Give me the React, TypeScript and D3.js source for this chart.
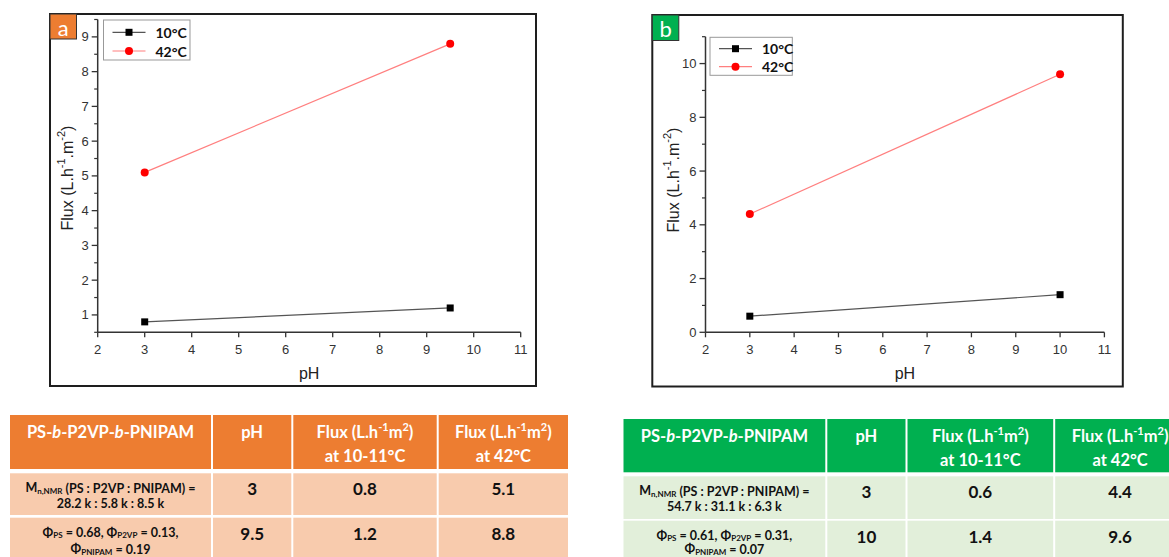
import React from 'react';
import * as d3 from 'd3';

// ---------- data ----------
const xTicks = [2, 3, 4, 5, 6, 7, 8, 9, 10, 11];
const seriesNames = ['10°C', '42°C'];

const phA = [3, 9.5];
const flux10A = [0.8, 1.2];
const flux42A = [5.1, 8.8];
const yTicksA = [1, 2, 3, 4, 5, 6, 7, 8, 9];
const yMinorA = [0.5, 1.5, 2.5, 3.5, 4.5, 5.5, 6.5, 7.5, 8.5, 9.5];

const phB = [3, 10];
const flux10B = [0.6, 1.4];
const flux42B = [4.4, 9.6];
const yTicksB = [0, 2, 4, 6, 8, 10];
const yMinorB = [1, 3, 5, 7, 9, 11];

const compA = ['28.2 k : 5.8 k : 8.5 k'];
const phiA = ['0.68', '0.13', '0.19'];
const compB = ['54.7 k : 31.1 k : 6.3 k'];
const phiB = ['0.61', '0.31', '0.07'];

const ARIAL = '"Liberation Sans", Arial, sans-serif';
const CAL = 'Lato, "Open Sans", sans-serif';

type PanelProps = {
  frame: { x: number; y: number; w: number; h: number };
  xRange: [number, number];
  yDomain: [number, number];
  yRange: [number, number];
  yTicks: number[];
  yMinor: number[];
  ph: number[];
  f10: number[];
  f42: number[];
  label: string;
  labelColor: string;
  labelW: number;
  labelH: number;
  legend: { x: number; y: number; w: number; h: number; r1: number; r2: number };
  yTitleX: number;
  yTitleY: number;
};

function Panel(p: PanelProps) {
  const x = d3.scaleLinear().domain([2, 11]).range(p.xRange);
  const y = d3.scaleLinear().domain(p.yDomain).range(p.yRange);
  const axisY = p.yRange[0];
  const axisX = p.xRange[0];
  const line = d3
    .line<number>()
    .x((_, i) => x(p.ph[i]))
    .y((d) => y(d));
  const lg = p.legend;
  const titleY = p.yTitleY;
  return (
    <g>
      <rect x={p.frame.x} y={p.frame.y} width={p.frame.w} height={p.frame.h} fill="#fff" stroke="#1e1e1e" strokeWidth={2} />
      <rect x={p.frame.x} y={p.frame.y} width={p.labelW} height={p.labelH} fill={p.labelColor} stroke="#333" strokeWidth={1} />
      <text x={p.frame.x + p.labelW / 2} y={p.frame.y + p.labelH / 2 + 1} fill="#fff" fontFamily={CAL} fontSize={22} textAnchor="middle" dominantBaseline="central">
        {p.label}
      </text>
      {/* axes */}
      <line x1={axisX} x2={axisX} y1={p.yRange[0]} y2={p.yRange[1]} stroke="#333" strokeWidth={1.5} />
      <line x1={p.xRange[0]} x2={p.xRange[1]} y1={axisY} y2={axisY} stroke="#333" strokeWidth={1.5} />
      {p.yTicks.map((t) => (
        <g key={'yt' + t}>
          <line x1={axisX - 6} x2={axisX} y1={y(t)} y2={y(t)} stroke="#333" strokeWidth={1.3} />
          <text x={axisX - 9} y={y(t)} textAnchor="end" dominantBaseline="central" fontFamily={ARIAL} fontSize={13} fill="#333">
            {t}
          </text>
        </g>
      ))}
      {p.yMinor.map((t) => (
        <line key={'ym' + t} x1={axisX - 3.5} x2={axisX} y1={y(t)} y2={y(t)} stroke="#333" strokeWidth={1.2} />
      ))}
      {xTicks.map((t) => (
        <g key={'xt' + t}>
          <line x1={x(t)} x2={x(t)} y1={axisY} y2={axisY + 5} stroke="#333" strokeWidth={1.3} />
          <text x={x(t)} y={axisY + 17} textAnchor="middle" dominantBaseline="central" fontFamily={ARIAL} fontSize={13} fill="#333">
            {t}
          </text>
        </g>
      ))}
      <text x={(p.xRange[0] + p.xRange[1]) / 2} y={axisY + 41} textAnchor="middle" dominantBaseline="central" fontFamily={ARIAL} fontSize={16} fill="#222">
        pH
      </text>
      <text
        transform={`translate(${p.yTitleX},${titleY}) rotate(-90)`}
        textAnchor="middle"
        dominantBaseline="central"
        fontFamily={ARIAL}
        fontSize={16}
        fill="#222"
      >
        Flux (L.h<tspan dy={-6} fontSize={11}>-1</tspan>
        <tspan dy={6}>.m</tspan>
        <tspan dy={-6} fontSize={11}>-2</tspan>
        <tspan dy={6}>)</tspan>
      </text>
      {/* series */}
      <path d={line(p.f10) || ''} fill="none" stroke="#555" strokeWidth={1.2} />
      <path d={line(p.f42) || ''} fill="none" stroke="#ff7f7f" strokeWidth={1.2} />
      {p.f10.map((v, i) => (
        <rect key={'s' + i} x={x(p.ph[i]) - 3.5} y={y(v) - 3.5} width={7} height={7} fill="#000" />
      ))}
      {p.f42.map((v, i) => (
        <circle key={'c' + i} cx={x(p.ph[i])} cy={y(v)} r={4} fill="#ff0000" />
      ))}
      {/* legend */}
      <rect x={lg.x} y={lg.y} width={lg.w} height={lg.h} fill="#fff" stroke="#999" strokeWidth={1} />
      <line x1={lg.x + 9} x2={lg.x + 42} y1={lg.r1} y2={lg.r1} stroke="#555" strokeWidth={1.2} />
      <rect x={lg.x + 25.5 - 3.5} y={lg.r1 - 3.5} width={7} height={7} fill="#000" />
      <line x1={lg.x + 9} x2={lg.x + 42} y1={lg.r2} y2={lg.r2} stroke="#ff7f7f" strokeWidth={1.2} />
      <circle cx={lg.x + 25.5} cy={lg.r2} r={4} fill="#ff0000" />
      <text x={lg.x + 52} y={lg.r1} dominantBaseline="central" fontFamily={CAL} fontWeight={700} fontSize={14} fill="#111">
        {seriesNames[0]}
      </text>
      <text x={lg.x + 52} y={lg.r2} dominantBaseline="central" fontFamily={CAL} fontWeight={700} fontSize={14} fill="#111">
        {seriesNames[1]}
      </text>
    </g>
  );
}

type TableProps = {
  cols: number[];
  head: [number, number];
  row1: [number, number];
  row2: [number, number];
  headColor: string;
  bodyColor: string;
  comp: string[];
  phi: string[];
  ph: number[];
  f10: number[];
  f42: number[];
  lastLine: number;
};

function FluxHead({ cx, y }: { cx: number; y: number }) {
  return (
    <text x={cx} y={y} textAnchor="middle" dominantBaseline="central" fontFamily={CAL} fontWeight={700} fontSize={16.5} fill="#fff">
      Flux (L.h<tspan dy={-6} fontSize={11}>-1</tspan>
      <tspan dy={6}>m</tspan>
      <tspan dy={-6} fontSize={11}>2</tspan>
      <tspan dy={6}>)</tspan>
    </text>
  );
}

function Table(t: TableProps) {
  const c = t.cols;
  const mid = (i: number) => (c[i] + c[i + 1]) / 2;
  const rows = [t.head, t.row1, t.row2];
  const headTxt = (s: string, cx: number, y: number) => (
    <text x={cx} y={y} textAnchor="middle" dominantBaseline="central" fontFamily={CAL} fontWeight={700} fontSize={16.5} fill="#fff">
      {s}
    </text>
  );
  const val = (s: string | number, cx: number, y: number, k: string) => (
    <text key={k} x={cx} y={y} textAnchor="middle" dominantBaseline="central" fontFamily={CAL} fontWeight={700} fontSize={17} fill="#111">
      {s}
    </text>
  );
  const hy = t.head[0];
  const r1 = t.row1[0];
  const r2 = t.row2[0];
  return (
    <g>
      {rows.map((r, ri) =>
        [0, 1, 2, 3].map((ci) => (
          <rect
            key={ri + '-' + ci}
            x={c[ci] + 1}
            y={r[0]}
            width={c[ci + 1] - c[ci] - 2}
            height={r[1] - r[0]}
            fill={ri === 0 ? t.headColor : t.bodyColor}
          />
        ))
      )}
      {/* header */}
      <text x={mid(0)} y={hy + 17} textAnchor="middle" dominantBaseline="central" fontFamily={CAL} fontWeight={700} fontSize={16.5} fill="#fff">
        PS-<tspan fontStyle="italic">b</tspan>-P2VP-<tspan fontStyle="italic">b</tspan>-PNIPAM
      </text>
      {headTxt('pH', mid(1), hy + 17)}
      <FluxHead cx={mid(2)} y={hy + 17} />
      {headTxt('at 10-11°C', mid(2), hy + 41)}
      <FluxHead cx={mid(3)} y={hy + 17} />
      {headTxt('at 42°C', mid(3), hy + 41)}
      {/* row 1 */}
      <text x={mid(0)} y={r1 + 14.5} textAnchor="middle" dominantBaseline="central" fontFamily={CAL} fontWeight={700} fontSize={12.5} fill="#111">
        M<tspan fontSize={8} dy={3}>n,NMR</tspan>
        <tspan dy={-3}> (PS : P2VP : PNIPAM) =</tspan>
      </text>
      <text x={mid(0)} y={r1 + 30} textAnchor="middle" dominantBaseline="central" fontFamily={CAL} fontWeight={700} fontSize={12.5} fill="#111">
        {t.comp[0]}
      </text>
      {val(t.ph[0], mid(1), r1 + 15.5, 'a1')}
      {val(t.f10[0].toFixed(1), mid(2), r1 + 15.5, 'a2')}
      {val(t.f42[0].toFixed(1), mid(3), r1 + 15.5, 'a3')}
      {/* row 2 */}
      <text x={mid(0)} y={r2 + 14.5} textAnchor="middle" dominantBaseline="central" fontFamily={CAL} fontWeight={700} fontSize={12.5} fill="#111">
        Φ<tspan fontSize={8} dy={3}>PS</tspan>
        <tspan dy={-3}> = {t.phi[0]}, Φ</tspan>
        <tspan fontSize={8} dy={3}>P2VP</tspan>
        <tspan dy={-3}> = {t.phi[1]},</tspan>
      </text>
      <text x={mid(0)} y={r2 + t.lastLine} textAnchor="middle" dominantBaseline="central" fontFamily={CAL} fontWeight={700} fontSize={12.5} fill="#111">
        Φ<tspan fontSize={8} dy={3}>PNIPAM</tspan>
        <tspan dy={-3}> = {t.phi[2]}</tspan>
      </text>
      {val(t.ph[1], mid(1), r2 + 16, 'b1')}
      {val(t.f10[1].toFixed(1), mid(2), r2 + 16, 'b2')}
      {val(t.f42[1].toFixed(1), mid(3), r2 + 16, 'b3')}
    </g>
  );
}

export default function App() {
  return (
    <svg width={1169} height={557} style={{ position: 'absolute', left: 0, top: 0, background: '#fff' }}>
      <rect x={0} y={0} width={1169} height={557} fill="#fff" />
      <Panel
        frame={{ x: 50, y: 14, w: 486, h: 372 }}
        xRange={[97.7, 520.7]}
        yDomain={[0.5, 9.5]}
        yRange={[332.3, 19.5]}
        yTicks={yTicksA}
        yMinor={yMinorA}
        ph={phA}
        f10={flux10A}
        f42={flux42A}
        label="a"
        labelColor="#ED7D31"
        labelW={26.5}
        labelH={25}
        legend={{ x: 103.5, y: 20, w: 86.5, h: 40, r1: 32.3, r2: 51 }}
        yTitleX={67}
        yTitleY={178}
      />
      <Panel
        frame={{ x: 652.3, y: 15, w: 470.5, h: 371.5 }}
        xRange={[705.5, 1104.4]}
        yDomain={[0, 11]}
        yRange={[332.3, 36.7]}
        yTicks={yTicksB}
        yMinor={yMinorB}
        ph={phB}
        f10={flux10B}
        f42={flux42B}
        label="b"
        labelColor="#00B050"
        labelW={26.5}
        labelH={25.5}
        legend={{ x: 710, y: 37.3, w: 82.3, h: 38, r1: 48.7, r2: 66.7 }}
        yTitleX={673}
        yTitleY={180}
      />
      <Table
        cols={[9, 212, 292.3, 437.7, 569]}
        head={[415, 469]}
        row1={[473.3, 515]}
        row2={[517.7, 560]}
        headColor="#ED7D31"
        bodyColor="#F8CBAD"
        comp={compA}
        phi={phiA}
        ph={phA}
        f10={flux10A}
        f42={flux42A}
        lastLine={31}
      />
      <Table
        cols={[622.5, 826.3, 906.5, 1054.2, 1186]}
        head={[419, 472.3]}
        row1={[476.3, 519]}
        row2={[520.7, 564]}
        headColor="#00B050"
        bodyColor="#E2EFDA"
        comp={compB}
        phi={phiB}
        ph={phB}
        f10={flux10B}
        f42={flux42B}
        lastLine={28}
      />
    </svg>
  );
}
